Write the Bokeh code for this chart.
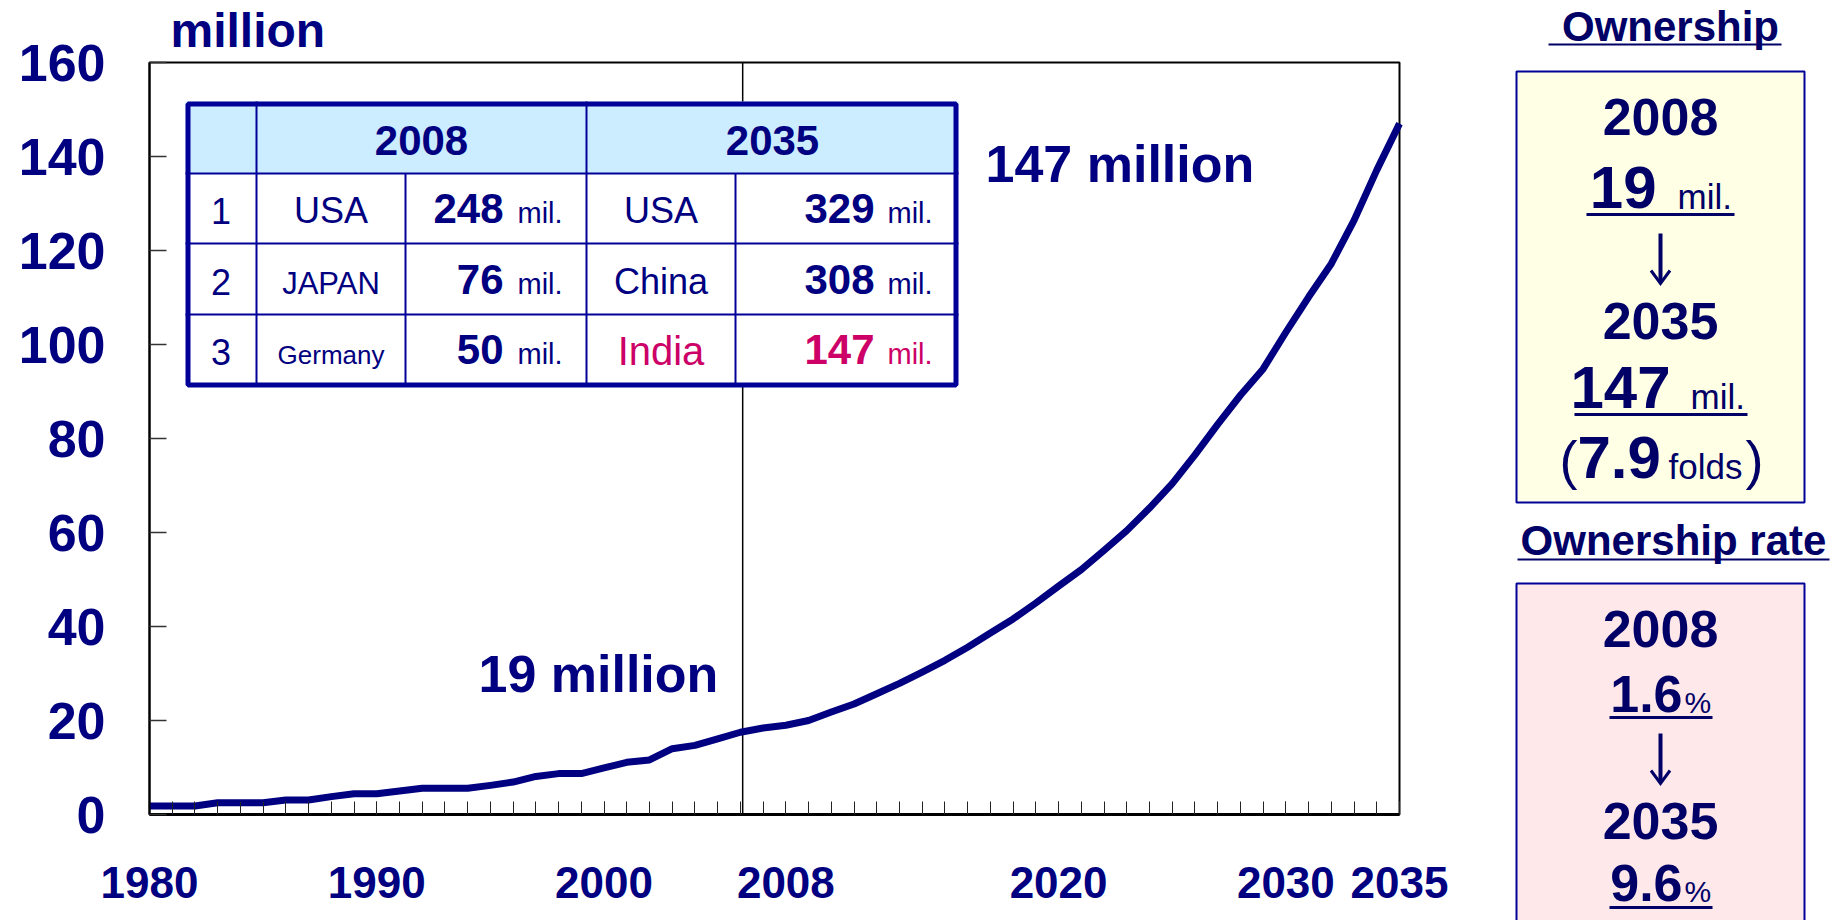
from bokeh.plotting import figure
from bokeh.models import Range1d, FixedTicker, LinearAxis, NumeralTickFormatter
from bokeh.core.properties import value
from bokeh.embed import file_html
from bokeh.resources import INLINE

# ---------------- data ----------------
years = list(range(1980, 2036))
vehicles_mil = [
    1.8, 1.8, 1.8, 2.5, 2.5, 2.5, 3.1, 3.1, 3.8, 4.4,
    4.4, 5.0, 5.6, 5.6, 5.6, 6.2, 6.9, 8.1, 8.7, 8.7,
    9.9, 11.1, 11.6, 14.0, 14.7, 16.1, 17.5, 18.4, 19.0, 20.0,
    21.8, 23.5, 25.7, 27.9, 30.3, 32.8, 35.6, 38.6, 41.6, 45.0,
    48.6, 52.1, 56.2, 60.4, 65.2, 70.4, 76.5, 83.0, 89.2, 94.8,
    102.6, 110.1, 117.2, 126.4, 137.1, 147.0,
]
x_tick_years = [1980, 1990, 2000, 2008, 2020, 2030, 2035]
y_ticks = [0, 20, 40, 60, 80, 100, 120, 140, 160]
divider_year = 2006.1

ranks = ["1", "2", "3"]
countries_2008 = ["USA", "JAPAN", "Germany"]
totals_2008 = [248, 76, 50]
countries_2035 = ["USA", "China", "India"]
totals_2035 = [329, 308, 147]

ownership_years = ["2008", "2035"]
ownership_mil = [19, 147]
ownership_growth = "7.9"
ownership_rate = [1.6, 9.6]

# ---------------- style ----------------
FONT = value("Liberation Sans")
NAVY = "#000080"
DEEP = "#000066"
RULE = "#000099"
PINK = "#CC0066"

W, H = 1840, 920
# plot area on the canvas: x 149..1399, y 62..814 (from top)
FL, FR, FT, FB = 149, 1399, 62, 814
X0, X1, Y0, Y1 = 1980, 2035, 0, 160
sx = (FR - FL) / (X1 - X0)
sy = (FB - FT) / (Y1 - Y0)

p = figure(width=W, height=H,
           x_range=Range1d(X0 - FL / sx, X1 + (W - FR) / sx),
           y_range=Range1d(Y0 - (H - FB) / sy, Y1 + FT / sy),
           output_backend="svg", toolbar_location=None, min_border=0,
           x_axis_location=None, y_axis_location=None)
p.grid.visible = False
p.outline_line_color = None
p.background_fill_color = "white"
p.border_fill_color = "white"

# canvas-pixel ranges for the inset table, callouts and summary panel
p.extra_x_ranges = {"px": Range1d(0, W)}
p.extra_y_ranges = {"py": Range1d(H, 0)}
PX = dict(x_range_name="px", y_range_name="py")

xa = LinearAxis(fixed_location=Y0, bounds=(X0, X1))
xa.ticker = FixedTicker(ticks=x_tick_years, minor_ticks=years)
xa.formatter = NumeralTickFormatter(format="0")
xa.major_tick_in = 13
xa.major_tick_out = 0
xa.minor_tick_in = 13
xa.minor_tick_out = 0
xa.major_tick_line_color = "#222222"
xa.minor_tick_line_color = "#222222"
xa.axis_line_color = "black"
xa.axis_line_width = 3
xa.major_label_text_font = "Liberation Sans"
xa.major_label_text_font_style = "bold"
xa.major_label_text_font_size = "44px"
xa.major_label_text_color = NAVY
xa.major_label_standoff = 52
p.add_layout(xa, "below")

ya = LinearAxis(fixed_location=X0, bounds=(Y0, Y1))
ya.ticker = FixedTicker(ticks=y_ticks)
ya.major_tick_in = 17
ya.major_tick_out = 0
ya.minor_tick_in = 0
ya.minor_tick_out = 0
ya.major_tick_line_color = "#333333"
ya.major_tick_line_width = 1.5
ya.axis_line_color = "black"
ya.axis_line_width = 2
ya.major_label_text_font = "Liberation Sans"
ya.major_label_text_font_style = "bold"
ya.major_label_text_font_size = "52px"
ya.major_label_text_color = NAVY
ya.major_label_standoff = 44
p.add_layout(ya, "left")

# plot box (top and right edges) and the 2008 divider
p.quad(left=[X0], right=[X1], bottom=[Y0], top=[Y1], fill_color=None,
       line_color="black", line_width=2)
p.segment(x0=[divider_year], y0=[Y0], x1=[divider_year], y1=[Y1],
          line_color="black", line_width=1.5)

# ownership curve
p.line(years, vehicles_mil, line_color=NAVY, line_width=7, line_join="round")


def ptext(x, base, txt, size, bold=False, color=NAVY, align="center"):
    # y is given as the text baseline; glyphs are anchored at their middle
    p.text(x=[x], y=[base - 0.35 * size], text=[txt], text_font=FONT,
           text_font_style="bold" if bold else "normal",
           text_font_size=f"{size}px", text_color=color, text_align=align,
           text_baseline="middle", **PX)


# callouts
ptext(170, 47, "million", 48, bold=True, align="left")
ptext(478, 692, f"{ownership_mil[0]} million", 52, bold=True, align="left")
ptext(985, 182, f"{ownership_mil[1]} million", 52, bold=True, align="left")

# inset ranking table
cols = [185, 256, 405, 586, 735, 958]
rows = [101, 173, 243, 314, 386]
p.quad(left=[cols[0]], right=[cols[-1]], top=[rows[0]], bottom=[rows[1]],
       fill_color="#CCECFF", line_color=None, **PX)
p.quad(left=[cols[0]], right=[cols[-1]], top=[rows[1]], bottom=[rows[-1]],
       fill_color="white", line_color=None, **PX)
sx0, sy0, sx1, sy1 = [], [], [], []
for yy in rows[1:-1]:
    sx0.append(cols[0]); sx1.append(cols[-1]); sy0.append(yy); sy1.append(yy)
for xx in (cols[1], cols[3]):
    sx0.append(xx); sx1.append(xx); sy0.append(rows[0]); sy1.append(rows[-1])
for xx in (cols[2], cols[4]):
    sx0.append(xx); sx1.append(xx); sy0.append(rows[1]); sy1.append(rows[-1])
p.segment(x0=sx0, y0=sy0, x1=sx1, y1=sy1, line_color=RULE, line_width=2, **PX)
p.quad(left=[187.5], right=[955.5], top=[103.5], bottom=[384.5], fill_color=None,
       line_color=RULE, line_width=5, **PX)

ptext((cols[1] + cols[3]) / 2, 155, "2008", 42, bold=True)
ptext((cols[3] + cols[5]) / 2, 155, "2035", 42, bold=True)

sizes_2008 = [36, 31, 26]
sizes_2035 = [36, 36, 40]
baselines = [223, 294, 364]
for i in range(3):
    b = baselines[i]
    c35 = PINK if i == 2 else NAVY
    ptext((cols[0] + cols[1]) / 2, b, ranks[i], 36)
    ptext((cols[1] + cols[2]) / 2, b, countries_2008[i], sizes_2008[i])
    ptext(503, b, str(totals_2008[i]), 42, bold=True, align="right")
    ptext(517, b, "mil.", 29, align="left")
    ptext((cols[3] + cols[4]) / 2, b, countries_2035[i], sizes_2035[i], color=c35)
    ptext(874, b, str(totals_2035[i]), 42, bold=True, align="right", color=c35)
    ptext(887, b, "mil.", 29, align="left", color=c35)

# ---------------- summary panel ----------------
cx = 1660

ptext(1670, 41, "Ownership", 42, bold=True, color=DEEP)
ptext(1673, 555, "Ownership rate", 42, bold=True, color=DEEP)
p.segment(x0=[1548, 1517], y0=[44, 559], x1=[1781, 1829], y1=[44, 559],
          line_color=DEEP, line_width=2, **PX)

p.quad(left=[1516], right=[1804], top=[71], bottom=[502],
       fill_color="#FFFFE6", line_color=RULE, line_width=2, **PX)
p.quad(left=[1516], right=[1804], top=[583], bottom=[935],
       fill_color="#FFE8EA", line_color=RULE, line_width=2, **PX)

# ownership box
ptext(cx, 135, ownership_years[0], 52, bold=True, color=DEEP)
ptext(1656, 208, str(ownership_mil[0]), 60, bold=True, color=DEEP, align="right")
ptext(1677, 208, "mil.", 35, color=DEEP, align="left")
ptext(cx, 339, ownership_years[1], 52, bold=True, color=DEEP)
ptext(1670, 408, str(ownership_mil[1]), 60, bold=True, color=DEEP, align="right")
ptext(1690, 408, "mil.", 35, color=DEEP, align="left")
ptext(1559, 478, "(", 54, color=DEEP, align="left")
ptext(1577, 478, ownership_growth, 60, bold=True, color=DEEP, align="left")
ptext(1668, 478, "folds", 35, color=DEEP, align="left")
ptext(1763, 478, ")", 54, color=DEEP, align="right")

# ownership-rate box
ptext(cx, 647, ownership_years[0], 52, bold=True, color=DEEP)
ptext(1682, 712, f"{ownership_rate[0]:.1f}", 52, bold=True, color=DEEP, align="right")
ptext(1684, 712, "%", 30, color=DEEP, align="left")
ptext(cx, 839, ownership_years[1], 52, bold=True, color=DEEP)
ptext(1682, 901, f"{ownership_rate[1]:.1f}", 52, bold=True, color=DEEP, align="right")
ptext(1684, 901, "%", 30, color=DEEP, align="left")

# value underlines
p.segment(x0=[1586, 1574, 1609, 1609], y0=[214, 414, 717, 907],
          x1=[1734, 1747, 1712, 1712], y1=[214, 414, 717, 907],
          line_color=DEEP, line_width=3, **PX)

# down arrows
for top, bot in ((233, 283), (733, 783)):
    p.segment(x0=[cx], y0=[top], x1=[cx], y1=[bot - 1], line_color=DEEP, line_width=4, **PX)
    p.multi_line(xs=[[cx - 9.5, cx, cx + 9.5]], ys=[[bot - 13, bot, bot - 13]],
                 line_color=DEEP, line_width=3, line_join="miter", **PX)

open("out.html", "w").write(file_html(p, INLINE))
